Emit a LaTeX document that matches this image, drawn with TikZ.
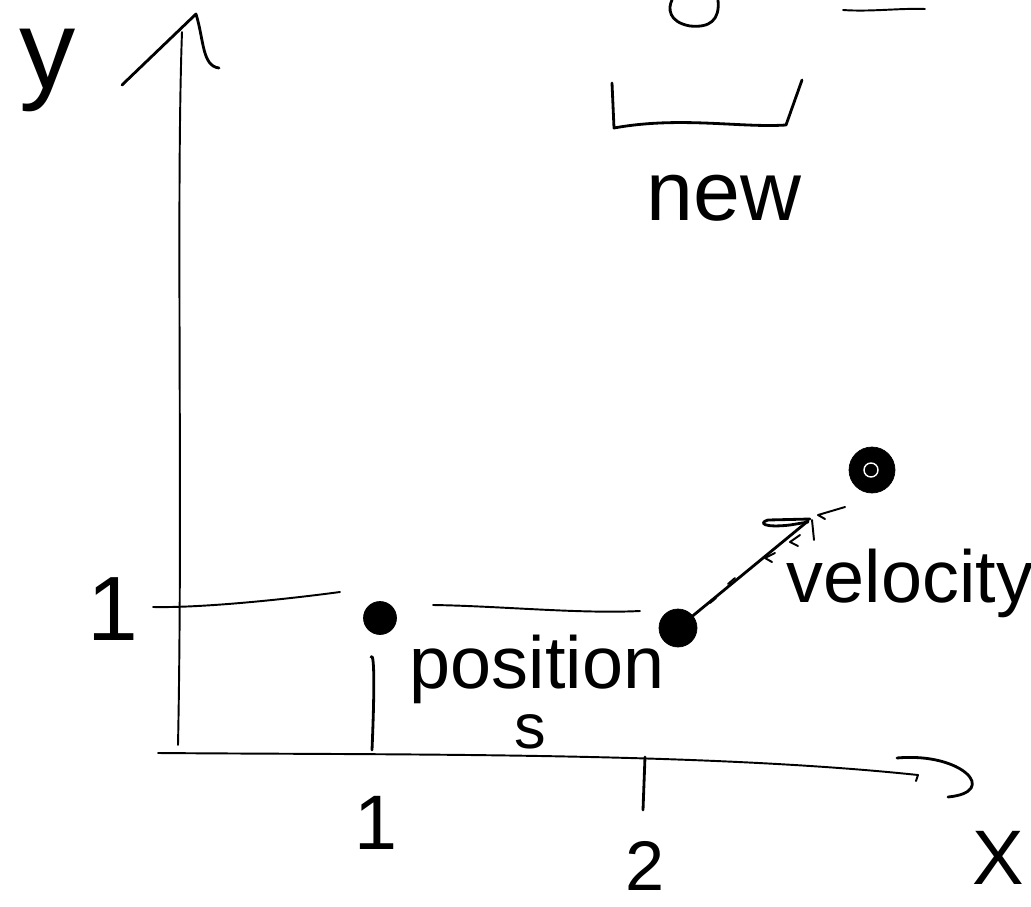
\documentclass[tikz,border=0pt]{standalone}
\usepackage{fontspec}
\setmainfont{Liberation Sans}
\begin{document}
\begin{tikzpicture}[x=0.02cm,y=-0.02cm,
  pen/.style={line width=1.6pt, line cap=round, line join=round},
  thinpen/.style={line width=1.1pt, line cap=round, line join=round},
  lbl/.style={inner sep=0pt, anchor=base},
  dot/.style={circle, fill=black, draw=black, inner sep=0pt}]
\useasboundingbox (0,0) rectangle (1031,906);

% axes
\coordinate (ytop) at (182,32);
\coordinate (yfoot) at (178,745);
\draw[thinpen] (yfoot) .. controls (183,500) and (176,200) .. (ytop);
\draw[pen] (122,85) -- (196,14) .. controls (204,40) and (202,66) .. (219,68);
\coordinate (xstart) at (158,753);
\coordinate (xend) at (918,775);
\draw[thinpen] (xstart) .. controls (400,755) and (700,752) .. (xend) -- (916,781);
\draw[pen] (897,758) .. controls (962,752) and (1000,792) .. (948,797);

% labels of axes
\node[lbl, font=\fontsize{64}{64}\selectfont] (ylab) at (48,88) {y};
\node[lbl, font=\fontsize{44}{44}\selectfont] (xlab) at (998,884) {X};
\node[lbl, font=\fontsize{52}{52}\selectfont] (one y) at (113,640) {1};
\node[lbl, font=\fontsize{44}{44}\selectfont] (one x) at (376,849) {1};
\node[lbl, font=\fontsize{40}{40}\selectfont] (two x) at (645,890) {2};
\coordinate (tick2a) at (645,757);
\coordinate (tick2b) at (643,810);
\draw[pen] (tick2a) -- (tick2b);

% points
\node[dot, minimum size=0.66cm] (p1) at (380,618) {};
\node[dot, minimum size=0.76cm] (p2) at (678,628) {};
\node[dot, minimum size=0.92cm] (p3) at (872,470) {};
\draw[white, line width=0.8pt] (871,470) circle [radius=7];

% guide lines
\draw[thinpen] (153,607) .. controls (200,608) and (280,600) .. (340,592);
\draw[thinpen] (433,605) .. controls (500,606) and (580,614) .. (640,611);
\draw[pen] (371,657) .. controls (374,652) and (375,680) .. (372,750);

% velocity arrow
\coordinate (vtip) at (808,521);
\draw[pen] (p2) -- (vtip);
\draw[pen] (810,519) -- (768,520) .. controls (758,523) and (764,528) .. (790,525) -- (808,522);
\draw[thinpen] (812,520) -- (814,540);
\draw[thinpen] (845,507) -- (818,515) -- (825,519);
\draw[thinpen] (800,535) -- (790,542) -- (798,546);
\draw[thinpen] (775,553) -- (765,558) -- (772,562);
\draw[thinpen] (735,578) -- (728,584);
\draw[thinpen] (716,598) -- (710,603);

% text labels
\node[lbl, font=\fontsize{42}{42}\selectfont] (position) at (537,688) {position};
\node[lbl, font=\fontsize{36}{36}\selectfont] (s) at (530,748) {s};
\node[lbl, font=\fontsize{42}{42}\selectfont] (velocity) at (910,602) {velocity};
\node[lbl, font=\fontsize{48}{48}\selectfont] (new) at (724,220) {new};

% top bracket
\draw[pen] (612,83) -- (614,128) .. controls (680,116) and (740,128) .. (786,125) -- (802,80);

% partial marks at top edge
\draw[pen] (718,0) .. controls (720,20) and (710,28) .. (690,26) .. controls (668,22) and (668,8) .. (672,0);
\draw[thinpen] (843,10) .. controls (870,12) and (900,8) .. (925,9);
\end{tikzpicture}
\end{document}
